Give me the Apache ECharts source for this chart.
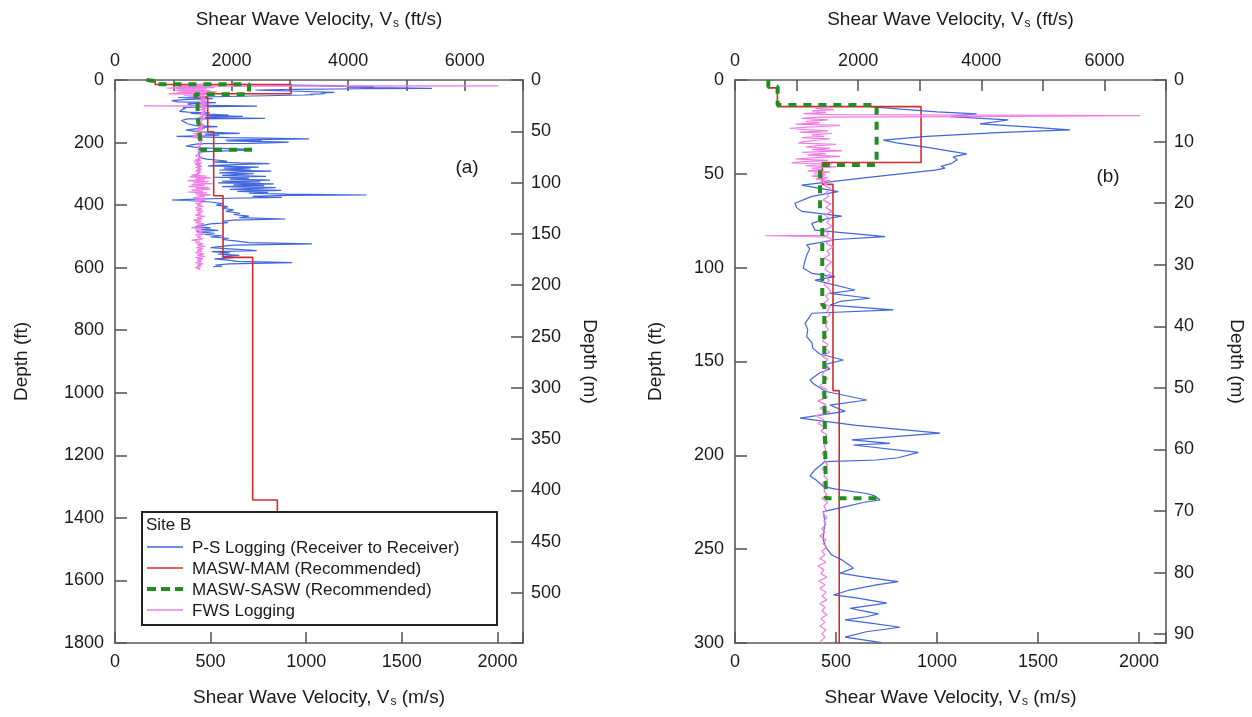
<!DOCTYPE html>
<html><head><meta charset="utf-8">
<script src="https://cdn.jsdelivr.net/npm/echarts@6/dist/echarts.min.js"></script>
<style>html,body{margin:0;padding:0;background:#fff}#c{width:1252px;height:717px}</style>
</head><body><div id="c"></div>
<script>
// ---------------- DATA ----------------
const FT_PER_M = 3.28084;
const topAxisMaxFts = 7000;             // top axis: 0..7000 ft/s
const depthMaxFtA = 1800;               // panel (a)
const depthMaxFtB = 300;                // panel (b)
const legendNames = ['P-S Logging (Receiver to Receiver)', 'MASW-MAM (Recommended)', 'MASW-SASW (Recommended)', 'FWS Logging'];

// MASW-MAM layered profile: layer top depth (ft) and Vs (m/s)
const mamTop = [0, 4.2, 14.2, 44, 55.6, 165.5, 370, 567, 1343];
const mamVs  = [163, 210, 921, 432, 485, 516, 565, 720, 849];
const mamBottom = 1500;

// MASW-SASW layered profile
const saswTop = [0, 3.5, 13.3, 45.3, 75, 120, 165, 222.9];
const saswVs  = [165, 211, 701, 421, 432, 442, 450, 720];
const saswBottom = 222.9;

// P-S logging (receiver to receiver): [depth ft, Vs m/s]
const psLog = [
 [14.2,668],[15.5,820],[17,1000],[18.1,1196],[19.5,1064],[21.3,1353],[23.4,1213],[25,1450],[26.6,1658],[28,1300],[30,950],[32,734],
 [33.5,800],[36,960],[39.4,1147],[41,1080],[42.5,1100],[44.4,1073],[46,1020],[47,1040],[48,990],[52,650],[56,330],[59.5,511],
 [62,380],[65.7,297],[68,305],[70,330],[72.5,528],[74,450],[76.4,380],[80,396],[83.5,743],[85,500],[87.9,355],[90,370],[93.3,355],
 [97,345],[100.3,338],[103,380],[104.8,495],[106.6,396],[111.9,594],[113.7,470],[116.3,668],[118,520],[120,470],[122.5,784],
 [124.3,380],[126,371],[129.6,347],[133,360],[136.8,355],[140,380],[143,386],[146,420],[149.2,536],[151.8,437],[154,470],[156,420],
 [159.8,371],[162,390],[166,450],[170.5,652],[173.2,470],[176.6,545],[180.2,322],[184,600],[188.2,1015],[191.8,578],[193.6,767],
 [194.5,586],[198.4,908],[201.3,808],[202.5,700],[203.3,446],[207.7,396],[211,371],[213,400],[216.7,437],[218,500],[220.2,644],
 [221.5,690],[223.8,718],[225,640],[228,520],[230,437],[236.2,446],[240,440],[245.1,437],[249,450],[253,478],[255.7,528],[258,560],
 [260.1,586],[262.8,520],[265,650],[267.3,808],[269,700],[272,560],[274.4,487],[276,600],[278.8,751],[281.5,569],[283,640],[284.5,710],
 [286,650],[287.7,545],[289.5,680],[291.6,817],[294,650],[296.9,545],[299.8,726],
 [302,650],[305,560],[308,790],[311,520],[314,700],[317,600],[320,810],[323,560],[326,760],[329,540],[332,830],[335,620],[338,780],
 [341,560],[344,840],[347,700],[350,600],[353,870],[356,640],[359,800],[362,700],[365,900],[367.6,1316],[369,900],[372,720],[375,873],
 [378,600],[381,420],[383.6,298],[386,400],[390,500],[395,560],[400,530],[405,590],[410,560],[415,620],[420,580],[426,654],[430,620],
 [435,700],[440,650],[444.4,891],[448,620],[452,560],[456,590],[460,500],[465,460],[469,420],[473,500],[477,450],[481,540],[485,427],
 [490,520],[494,470],[498,560],[502,500],[506,594],[510,560],[515,640],[520,700],[524,1030],[528,620],[532,560],[536,500],[540,600],
 [545.6,741],[549,507],[553,600],[557,540],[561,650],[565,560],[568,620],[572,520],[576,590],[580,640],[584,926],[588,600],[591.5,525],
 [595,560],[597,513]
];

// FWS logging: [depth ft, Vs m/s]
const fwsLog = [
 [14.5,470],[15.1,400],[15.8,490],[16.5,380],[17.2,450],[17.9,340],[18.5,480],[19.0,2005],[19.5,1100],[19.8,420],[20.5,330],[21.2,460],
 [22,350],[22.8,420],[23.5,300],[24.2,520],[24.9,528],[25.7,272],[26.4,350],[27.1,460],[27.8,320],[28.5,480],[29.2,380],[30,440],
 [30.7,330],[31.4,470],[32.1,400],[32.8,340],[33.6,314],[34.3,500],[35,410],[35.7,350],[36.4,470],[37.1,380],[37.8,530],[38.5,330],
 [39.2,450],[40,360],[40.7,520],[41.4,400],[42.1,300],[42.8,460],[43.5,340],[44.2,280],[44.9,480],[45.6,350],[46.3,500],[47,380],
 [47.7,430],[48.4,360],[49.1,470],[49.8,390],[50.5,450],[51.2,380],[52,460],[52.8,400],[53.6,470],[54.4,420],[55.2,460],
 [56,440],[58,475],[60,450],[62,465],[64,435],[66,475],[68,450],[70,480],[72,445],[74,470],[76,455],[78,480],[80,440],[82,465],
 [82.8,455],[83.0,150],[83.4,150],[83.6,455],[85,480],[87,450],[89,485],[91,455],[93,470],[95,440],[97,478],[99,455],[101,445],
 [103,475],[105,450],[107,468],[109,440],[111,462],[113,475],[115,448],[117,462],[119,440],[121,470],[123,455],[125,472],[127,445],
 [129,458],[131,448],[133,462],[135,442],[137,455],[139,432],[141,460],[143,445],[145,470],[147,430],[149,460],[151,440],[153,465],
 [155,445],[157,430],[159,460],[161,440],[163,420],[165,455],[167,430],[169,460],[171,410],[173,450],[175,420],[177,470],[179,400],
 [181,440],[183,410],[185,450],[187,425],[189,455],[191,435],[193,460],[195,440],[197,450],[199,430],[201,455],[203,440],[205,460],
 [207,430],[209,450],[211,440],[213,460],[215,430],[217,450],[219,440],[221,455],[223,430],[225,460],[227,440],[229,450],[231,435],
 [233,455],[235,440],[237,450],[239,430],[241,445],[243,420],[245,450],[247,435],[249,455],[251,430],[253,445],[255,420],[257,450],
 [259,410],[261,440],[263,425],[265,455],[267,415],[269,445],[271,420],[273,450],[275,430],[277,455],[279,420],[281,445],[283,430],
 [285,455],[287,425],[289,445],[291,420],[293,450],[295,430],[297,445],[299,425],
 [301,440],[304,400],[307,480],[310,390],[313,500],[316,420],[319,470],[322,380],[325,490],[328,410],[331,510],[334,400],[337,470],
 [340,385],[343,490],[346,420],[349,500],[352,400],[355,460],[358,380],[361,480],[364,420],[367,500],[370,430],[373,470],[376,410],
 [379,460],[382,420],[385,470],[388,430],[391,460],[394,420],[397,450],[400,430],[404,460],[408,420],[412,455],[416,425],[420,460],
 [424,430],[428,450],[432,420],[436,470],[440,430],[444,455],[448,410],[452,450],[456,420],[460,465],[464,430],[468,455],[472,400],
 [476,450],[480,420],[484,460],[488,430],[492,470],[496,420],[500,450],[504,430],[508,460],[512,400],[516,445],[520,420],[524,460],
 [528,430],[532,470],[536,425],[540,460],[544,430],[548,455],[552,420],[556,465],[560,430],[564,470],[568,420],[572,460],[576,430],
 [580,455],[584,420],[588,460],[592,430],[596,450],[600,420],[604,445],[607,436]
];

// ---------------- BUILD ----------------
function stepProfile(tops, vs, bottom) {
  const pts = [];
  for (let i = 0; i < tops.length; i++) {
    const b = i + 1 < tops.length ? tops[i + 1] : bottom;
    pts.push([vs[i], tops[i]]);
    pts.push([vs[i], b]);
  }
  return pts;
}
const mamPts = stepProfile(mamTop, mamVs, mamBottom);
const saswPts = stepProfile(saswTop, saswVs, saswBottom);
const psPts = psLog.map(p => [p[1], p[0]]);
const fwsPts = fwsLog.map(p => [p[1], p[0]]);

const vsMaxMs = topAxisMaxFts / FT_PER_M;
const FONT = '"Liberation Sans", Arial, sans-serif';
const AX = '#5a5a5a', TX = '#1a1a1a';
const lab = (extra) => Object.assign({color: TX, fontSize: 18, fontFamily: FONT}, extra || {});
const axLine = {show: true, onZero: false, lineStyle: {color: AX, width: 1.6}};
const tick = (len) => ({show: true, inside: true, length: len || 11, lineStyle: {color: AX, width: 1.6}});
const subRich = {s: {fontSize: 12, fontFamily: FONT, color: TX, padding: [9, 0, 0, 1]}};
const multOf = (v, m) => Math.abs(v / m - Math.round(v / m)) < 1e-6;

function xAxes(g) {
  return [
    {gridIndex: g, type: 'value', position: 'bottom', min: 0, max: vsMaxMs, interval: 500,
     axisLine: axLine, axisTick: tick(), splitLine: {show: false},
     axisLabel: lab({margin: 10, formatter: v => (multOf(v, 500) ? String(Math.round(v)) : '')}),
     name: 'Shear Wave Velocity, V{s|s} (m/s)', nameLocation: 'middle', nameGap: 44,
     nameTextStyle: {color: TX, fontSize: 19, fontFamily: FONT, rich: subRich}},
    {gridIndex: g, type: 'value', position: 'top', min: 0, max: topAxisMaxFts, interval: 1000,
     axisLine: axLine, axisTick: tick(), splitLine: {show: false},
     axisLabel: lab({margin: 10, formatter: v => (multOf(v, 2000) ? String(Math.round(v)) : '')}),
     name: 'Shear Wave Velocity, V{s|s} (ft/s)', nameLocation: 'middle', nameGap: 50,
     nameTextStyle: {color: TX, fontSize: 19, fontFamily: FONT, rich: subRich}}
  ];
}
function yAxes(g, maxFt, ftInt, mInt, gapL, gapR) {
  const maxM = maxFt / FT_PER_M;
  return [
    {gridIndex: g, type: 'value', position: 'left', min: 0, max: maxFt, interval: ftInt, inverse: true,
     axisLine: axLine, axisTick: tick(12), splitLine: {show: false},
     axisLabel: lab({margin: 11, formatter: v => String(Math.round(v))}),
     name: 'Depth (ft)', nameLocation: 'middle', nameGap: gapL, nameRotate: 90,
     nameTextStyle: {color: TX, fontSize: 19, fontFamily: FONT}},
    {gridIndex: g, type: 'value', position: 'right', min: 0, max: maxM, interval: mInt, inverse: true,
     axisLine: axLine, axisTick: tick(12), splitLine: {show: false},
     axisLabel: lab({margin: 8, formatter: v => (multOf(v, mInt) ? String(Math.round(v)) : '')}),
     name: 'Depth (m)', nameLocation: 'middle', nameGap: gapR, nameRotate: -90,
     nameTextStyle: {color: TX, fontSize: 19, fontFamily: FONT}}
  ];
}

const seriesStyles = [
  {color: '#3f66dc', width: 1.2, type: 'solid', dash: null, z: 2},
  {color: '#d42b2b', width: 1.6, type: 'solid', dash: null, z: 3},
  {color: '#1f8f1f', width: 4, type: [8, 7], dash: [9, 5], z: 5},
  {color: '#f07ce4', width: 1.2, type: 'solid', dash: null, z: 4}
];
const seriesData = [psPts, mamPts, saswPts, fwsPts];

function panelSeries(xi, yi) {
  return legendNames.map((n, i) => ({
    name: n, type: 'line', xAxisIndex: xi, yAxisIndex: yi, data: seriesData[i],
    symbol: 'none', showSymbol: false, z: seriesStyles[i].z,
    lineStyle: {color: seriesStyles[i].color, width: seriesStyles[i].width, type: seriesStyles[i].type},
    itemStyle: {color: seriesStyles[i].color}
  }));
}

// legend layout (pixels)
const legendTop = 535, legendRow = 21, legendKeyX = 147, legendKeyW = 36;
const legendKeys = legendNames.map((n, i) => ({
  type: 'line', z: 7,
  shape: {x1: legendKeyX, y1: legendTop + 12 + i * legendRow, x2: legendKeyX + legendKeyW, y2: legendTop + 12 + i * legendRow},
  style: {stroke: seriesStyles[i].color, lineWidth: i === 2 ? 4 : 1.5, lineDash: seriesStyles[i].dash}
}));

const chart = echarts.init(document.getElementById('c'), null, {renderer: 'canvas'});
chart.setOption({
  animation: false,
  backgroundColor: '#fff',
  grid: [
    {left: 115, top: 80, width: 408, height: 563},
    {left: 735, top: 80, width: 431, height: 563}
  ],
  xAxis: xAxes(0).concat(xAxes(1)),
  yAxis: yAxes(0, depthMaxFtA, 200, 50, 84, 57).concat(yAxes(1, depthMaxFtB, 50, 10, 70, 61)),
  series: panelSeries(0, 0).concat(panelSeries(2, 2)),
  legend: {
    data: legendNames.map(n => ({name: n, icon: 'none'})),
    orient: 'vertical', left: 146, top: legendTop, z: 6,
    itemWidth: 36, itemHeight: 14, itemGap: 4, selectedMode: false,
    textStyle: {color: TX, fontSize: 17, fontFamily: FONT, padding: [0, 0, 0, 0]}
  },
  graphic: [
    {type: 'rect', z: 5, shape: {x: 142, y: 512, width: 355, height: 113},
     style: {fill: '#fff', stroke: '#222', lineWidth: 2}},
    {type: 'text', z: 7, x: 146, y: 525, style: {text: 'Site B', fill: TX, fontSize: 17, fontFamily: FONT, verticalAlign: 'middle'}},
    {type: 'text', z: 7, x: 467, y: 168, style: {text: '(a)', fill: TX, fontSize: 19, fontFamily: FONT, align: 'center', verticalAlign: 'middle'}},
    {type: 'text', z: 7, x: 1108, y: 177, style: {text: '(b)', fill: TX, fontSize: 19, fontFamily: FONT, align: 'center', verticalAlign: 'middle'}}
  ].concat(legendKeys)
});
</script></body></html>
